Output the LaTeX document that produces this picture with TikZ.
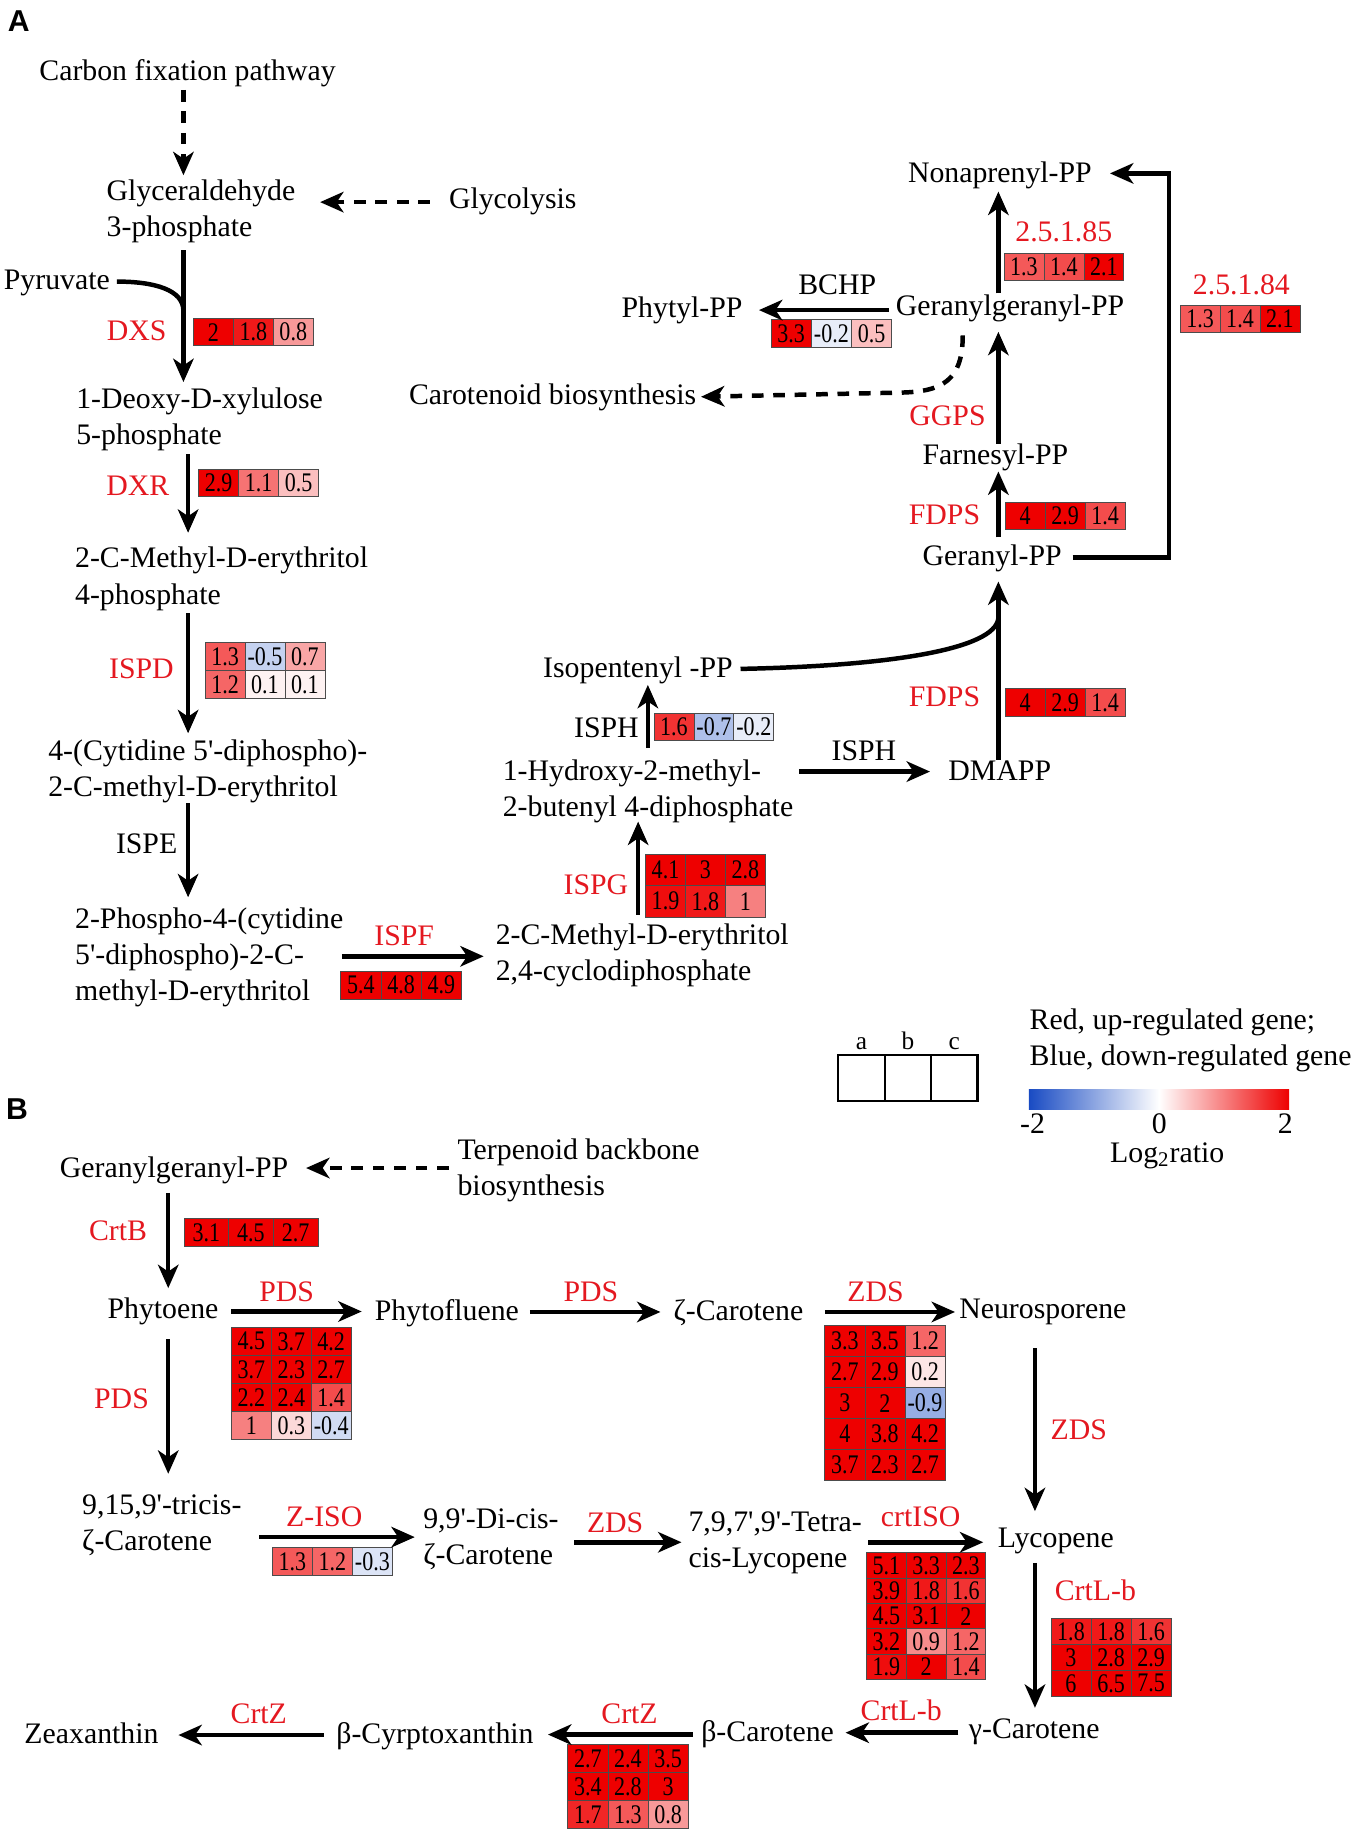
\documentclass[tikz,border=0pt]{standalone}
\usepackage{fontspec}
\setmainfont{Liberation Serif}
\newfontfamily\lsans{Liberation Sans}
\newfontfamily\cellfont[FakeStretch=0.82]{Liberation Serif}
\usetikzlibrary{arrows.meta}
\definecolor{hmred}{RGB}{238,0,0}
\definecolor{hmblue}{RGB}{25,75,195}
\definecolor{lblred}{RGB}{228,24,32}
\newcommand{\myq}{\textquotesingle}
\newcounter{hmc}
\newcommand{\hmcell}[5]{%
  \stepcounter{hmc}%
  \pgfmathsetmacro{\hmp}{min(100,abs(#5)*50)}%
  \pgfmathtruncatemacro{\hmneg}{(#5<0)?1:0}%
  \ifnum\hmneg=1\relax\def\hmcol{hmblue}\else\def\hmcol{hmred}\fi
  \node[hcellst, fill=\hmcol!\hmp!white, minimum width={#3*0.6pt}, minimum height={#4*0.6pt}] (hc\arabic{hmc}) at (#1,#2) {#5};%
}
\newcommand{\hmrow}[7]{%
  \hmcell{#1}{#2}{#3}{#4}{#5}%
  \hmcell{#1+#3}{#2}{#3}{#4}{#6}%
  \hmcell{#1+2*#3}{#2}{#3}{#4}{#7}%
}
\newcommand{\hmap}[5]{%
  \foreach \hva/\hvb/\hvc [count=\hvi from 0] in {#5}{\hmrow{#1}{#2+\hvi*#4}{#3}{#4}{\hva}{\hvb}{\hvc}}%
}
\begin{document}
\begin{tikzpicture}[x=0.6pt,y=-0.6pt,
  lbl/.style={font=\fontsize{15.3}{18.6}\selectfont, inner sep=0pt, text height=0.68em, text depth=0.22em, yshift=-2.4pt},
  rl/.style={lbl, text=lblred},
  ml/.style={font=\fontsize{15.3}{18.6}\selectfont, inner sep=0pt, align=left, anchor=west, yshift=-1.2pt},
  panel/.style={font=\lsans\bfseries\fontsize{15.5}{15.5}\selectfont, inner sep=0pt},
  small/.style={font=\fontsize{13}{13}\selectfont, inner sep=0pt, text height=0.68em, text depth=0pt},
  hcellst/.style={draw=black!70, line width=0.4pt, inner sep=0pt, outer sep=0pt, anchor=north west, font=\cellfont\fontsize{13.8}{14}\selectfont},
  arr/.style={line width=2.3pt, -{Stealth[length=12pt,width=10.5pt,inset=3.5pt]}},
  darr/.style={arr, dash pattern=on 6pt off 5pt},
  plain/.style={line width=2.3pt}
]
\useasboundingbox (0,0) rectangle (1160,1568);

% ---------------- Panel A ----------------
\node[panel] (pA) at (16,18) {A};
\node[lbl] (cfp) at (160.5,61) {Carbon fixation pathway};
\node[ml] (g3p) at (91,179) {Glyceraldehyde\\3-phosphate};
\node[lbl, anchor=west] (glyc) at (384,171) {Glycolysis};
\node[lbl, anchor=west] (pyr) at (3,240) {Pyruvate};
\node[rl] (dxs) at (117,284) {DXS};
\node[ml] (dxp) at (65,357) {1-Deoxy-D-xylulose\\5-phosphate};
\node[rl] (dxr) at (118,416) {DXR};
\node[ml] (mep) at (64,493.5) {2-C-Methyl-D-erythritol\\4-phosphate};
\node[rl] (ispd) at (121,572.5) {ISPD};
\node[ml] (cdpme) at (41,658) {4-(Cytidine 5\myq-diphospho)-\\2-C-methyl-D-erythritol};
\node[lbl] (ispe) at (125.5,723) {ISPE};
\node[ml] (cdpmep) at (64,817.5) {2-Phospho-4-(cytidine\\5\myq-diphospho)-2-C-\\methyl-D-erythritol};
\node[rl] (ispf) at (346,801) {ISPF};
\node[ml] (mecpp) at (424,815.7) {2-C-Methyl-D-erythritol\\2,4-cyclodiphosphate};
\node[rl] (ispg) at (510,757.4) {ISPG};
\node[ml] (hmbpp) at (430,675.3) {1-Hydroxy-2-methyl-\\2-butenyl 4-diphosphate};
\node[lbl] (isph1) at (519,623.3) {ISPH};
\node[lbl, anchor=west] (ipp) at (464.6,572) {Isopentenyl -PP};
\node[lbl] (isph2) at (739.4,643.3) {ISPH};
\node[lbl] (dmapp) at (855.7,660.4) {DMAPP};
\node[rl] (fdps1) at (808.4,597) {FDPS};
\node[lbl] (gpp) at (849.2,476.3) {Geranyl-PP};
\node[rl] (fdps2) at (808.4,441.2) {FDPS};
\node[lbl] (fpp) at (852,390) {Farnesyl-PP};
\node[rl] (ggps) at (811,356.7) {GGPS};
\node[lbl] (ggpp) at (864.5,262.6) {Geranylgeranyl-PP};
\node[rl] (e85) at (910.5,199) {2.5.1.85};
\node[lbl] (npp) at (855.8,148.4) {Nonaprenyl-PP};
\node[rl] (e84) at (1062.5,244) {2.5.1.84};
\node[lbl] (bchp) at (716.6,244) {BCHP};
\node[lbl] (phytyl) at (583.8,264) {Phytyl-PP};
\node[lbl] (carot) at (473,338) {Carotenoid biosynthesis};

% heatmaps A
\hmap{165.5}{272.5}{34.2}{23.5}{2/1.8/0.8}
\hmap{170}{401.5}{34.2}{23.5}{2.9/1.1/0.5}
\hmap{175.5}{550}{34.2}{23.8}{1.3/-0.5/0.7, 1.2/0.1/0.1}
\hmap{291.7}{831}{34.4}{24}{5.4/4.8/4.9}
\hmap{552.5}{731.2}{34.2}{26.8}{4.1/3/2.8, 1.9/1.8/1}
\hmap{559.7}{610.4}{34.2}{23.6}{1.6/-0.7/-0.2}
\hmap{860.2}{589.6}{34.3}{23.4}{4/2.9/1.4}
\hmap{860.2}{430}{34.3}{23.5}{4/2.9/1.4}
\hmap{859.3}{216.9}{34.2}{23.4}{1.3/1.4/2.1}
\hmap{1010}{261.7}{34.2}{23.1}{1.3/1.4/2.1}
\hmap{660}{273.4}{34.4}{24}{3.3/-0.2/0.5}

% connectors A
\coordinate (d1s) at (157,77);   \coordinate (d1e) at (157,150);
\coordinate (d2s) at (368,173);  \coordinate (d2e) at (274,173);
\coordinate (a1s) at (157,214);  \coordinate (a1e) at (157,327);
\coordinate (pyc) at (100,241);  \coordinate (pyj) at (157,266);
\coordinate (a2s) at (161,389);  \coordinate (a2e) at (161,456);
\coordinate (a3s) at (161,525);  \coordinate (a3e) at (161,627.6);
\coordinate (a4s) at (161,687.5);\coordinate (a4e) at (161,768);
\coordinate (a5s) at (292.5,818.5); \coordinate (a5e) at (414,818.5);
\coordinate (a6s) at (546.2,783);   \coordinate (a6e) at (546.2,703.2);
\coordinate (a7s) at (554.5,640.4); \coordinate (a7e) at (554.5,586.2);
\coordinate (ipc) at (633.8,572.5); \coordinate (ipj) at (854.5,529);
\coordinate (a8s) at (683.8,660.4); \coordinate (a8e) at (796,660.4);
\coordinate (a9s) at (854.5,650.4); \coordinate (a9e) at (854.5,497.7);
\coordinate (a10s) at (854.5,460);  \coordinate (a10e) at (854.5,403.5);
\coordinate (a11s) at (854.5,379.6);\coordinate (a11e) at (854.5,284);
\coordinate (a12s) at (854.5,251);  \coordinate (a12e) at (854.5,164);
\coordinate (br1) at (918,477); \coordinate (br2) at (1000.5,477);
\coordinate (br3) at (1000.5,148.4); \coordinate (br4) at (950,148.4);
\coordinate (a13s) at (760.8,265.4); \coordinate (a13e) at (649.6,265.4);
\coordinate (dc1) at (824,287); \coordinate (dc2) at (772,336); \coordinate (dc3) at (600,339.6);

\draw[darr] (d1s) -- (d1e);
\draw[darr] (d2s) -- (d2e);
\draw[arr] (a1s) -- (a1e);
\draw[plain] (pyc) .. controls (132,241) and (157,248) .. (pyj);
\draw[arr] (a2s) -- (a2e);
\draw[arr] (a3s) -- (a3e);
\draw[arr] (a4s) -- (a4e);
\draw[arr] (a5s) -- (a5e);
\draw[arr] (a6s) -- (a6e);
\draw[arr] (a7s) -- (a7e);
\draw[plain] (ipc) .. controls (760,570) and (852,556) .. (ipj);
\draw[arr] (a8s) -- (a8e);
\draw[arr] (a9s) -- (a9e);
\draw[arr] (a10s) -- (a10e);
\draw[arr] (a11s) -- (a11e);
\draw[arr] (a12s) -- (a12e);
\draw[arr] (br1) -- (br2) -- (br3) -- (br4);
\draw[arr] (a13s) -- (a13e);
\draw[darr] (dc1) .. controls (824,326) and (806,335) .. (dc2) -- (dc3);

% legend
\draw[line width=1.2pt] (717.5,902.7) rectangle (836.5,942.5);
\draw[line width=1.2pt] (757.2,902.7) -- (757.2,942.5);
\draw[line width=1.2pt] (796.8,902.7) -- (796.8,942.5);
\node[small] (la) at (737.3,892.7) {a};
\node[small] (lb) at (777,892.7) {b};
\node[small] (lc) at (816.7,892.7) {c};
\node[ml] (leg) at (881,888.4) {Red, up-regulated gene;\\Blue, down-regulated gene};
\shade[left color=hmblue, right color=hmred, middle color=white] (880.7,932.6) rectangle (1103.3,949.2);
\node[lbl] (m2) at (883.8,962.6) {-2};
\node[lbl] (z0) at (992.3,962.6) {0};
\node[lbl] (p2) at (1100,962.6) {2};
\node[lbl] (logr) at (999,987) {Log\textsubscript{2}ratio};

% ---------------- Panel B ----------------
\node[panel] (pB) at (14.5,949.5) {B};
\node[lbl] (ggppB) at (149,1000) {Geranylgeranyl-PP};
\node[ml] (terp) at (391.3,999.4) {Terpenoid backbone\\biosynthesis};
\node[rl] (crtb) at (101,1054) {CrtB};
\node[lbl] (phytoene) at (139.5,1121) {Phytoene};
\node[rl] (pds1) at (245.3,1106) {PDS};
\node[lbl] (phytofl) at (382.5,1122) {Phytofluene};
\node[rl] (pds2) at (505.7,1106) {PDS};
\node[lbl] (zcar) at (632,1122) {ζ-Carotene};
\node[rl] (zds1) at (749.3,1106.5) {ZDS};
\node[lbl] (neuro) at (892.6,1121) {Neurosporene};
\node[rl] (zds2) at (923.3,1224.3) {ZDS};
\node[lbl] (lyc) at (903.7,1316.8) {Lycopene};
\node[rl] (crtiso) at (788,1298.5) {crtISO};
\node[ml] (tetra) at (589,1318.4) {7,9,7\myq,9\myq-Tetra-\\cis-Lycopene};
\node[rl] (zds3) at (526.5,1303.5) {ZDS};
\node[ml] (dicis) at (362,1315.5) {9,9\myq-Di-cis-\\ζ-Carotene};
\node[rl] (ziso) at (277.5,1298.5) {Z-ISO};
\node[ml] (tricis) at (70,1303.4) {9,15,9\myq-tricis-\\ζ-Carotene};
\node[rl] (pds3) at (104,1198) {PDS};
\node[rl] (crtlb1) at (937.5,1362.4) {CrtL-b};
\node[lbl] (gcar) at (885.2,1480.3) {γ-Carotene};
\node[rl] (crtlb2) at (771.3,1464.6) {CrtL-b};
\node[lbl] (bcar) at (657,1482.3) {β-Carotene};
\node[rl] (crtz1) at (538.8,1467) {CrtZ};
\node[lbl] (bcry) at (372.3,1484) {β-Cyrptoxanthin};
\node[rl] (crtz2) at (221.5,1467.5) {CrtZ};
\node[lbl] (zea) at (78.3,1484) {Zeaxanthin};

% heatmaps B
\hmap{157.5}{1043}{38.2}{24}{3.1/4.5/2.7}
\hmap{198}{1136}{34.2}{24}{4.5/3.7/4.2, 3.7/2.3/2.7, 2.2/2.4/1.4, 1/0.3/-0.4}
\hmap{706}{1134.7}{34.3}{26.5}{3.3/3.5/1.2, 2.7/2.9/0.2, 3/2/-0.9, 4/3.8/4.2, 3.7/2.3/2.7}
\hmap{741.7}{1329}{34}{21.7}{5.1/3.3/2.3, 3.9/1.8/1.6, 4.5/3.1/2, 3.2/0.9/1.2, 1.9/2/1.4}
\hmap{233}{1324.8}{34.3}{23.7}{1.3/1.2/-0.3}
\hmap{899.5}{1385.5}{34.3}{22.1}{1.8/1.8/1.6, 3/2.8/2.9, 6/6.5/7.5}
\hmap{486}{1493}{34.3}{24}{2.7/2.4/3.5, 3.4/2.8/3, 1.7/1.3/0.8}

% connectors B
\coordinate (b1s) at (384,999.7);   \coordinate (b1e) at (262,999.7);
\coordinate (b2s) at (144,1021);    \coordinate (b2e) at (144,1102.5);
\coordinate (b3s) at (198,1122.5);  \coordinate (b3e) at (309.6,1122.5);
\coordinate (b4s) at (453.5,1122.9);\coordinate (b4e) at (565.3,1122.9);
\coordinate (b5s) at (706,1122.9);  \coordinate (b5e) at (817.4,1122.9);
\coordinate (b6s) at (885.8,1153.9);\coordinate (b6e) at (885.8,1293.4);
\coordinate (b7s) at (743,1320);    \coordinate (b7e) at (841.6,1320);
\coordinate (b8s) at (491.7,1320);  \coordinate (b8e) at (583.3,1320);
\coordinate (b9s) at (222,1315.6);  \coordinate (b9e) at (355,1315.6);
\coordinate (b10s) at (144,1146.2); \coordinate (b10e) at (144,1261.4);
\coordinate (b11s) at (885.8,1337.6);\coordinate (b11e) at (885.8,1461.7);
\coordinate (b12s) at (820.2,1483); \coordinate (b12e) at (723.7,1483);
\coordinate (b13s) at (593,1484.6); \coordinate (b13e) at (469,1484.6);
\coordinate (b14s) at (277,1485);   \coordinate (b14e) at (152.7,1485);

\draw[darr] (b1s) -- (b1e);
\draw[arr] (b2s) -- (b2e);
\draw[arr] (b3s) -- (b3e);
\draw[arr] (b4s) -- (b4e);
\draw[arr] (b5s) -- (b5e);
\draw[arr] (b6s) -- (b6e);
\draw[arr] (b7s) -- (b7e);
\draw[arr] (b8s) -- (b8e);
\draw[arr] (b9s) -- (b9e);
\draw[arr] (b10s) -- (b10e);
\draw[arr] (b11s) -- (b11e);
\draw[arr] (b12s) -- (b12e);
\draw[arr] (b13s) -- (b13e);
\draw[arr] (b14s) -- (b14e);
\end{tikzpicture}
\end{document}
